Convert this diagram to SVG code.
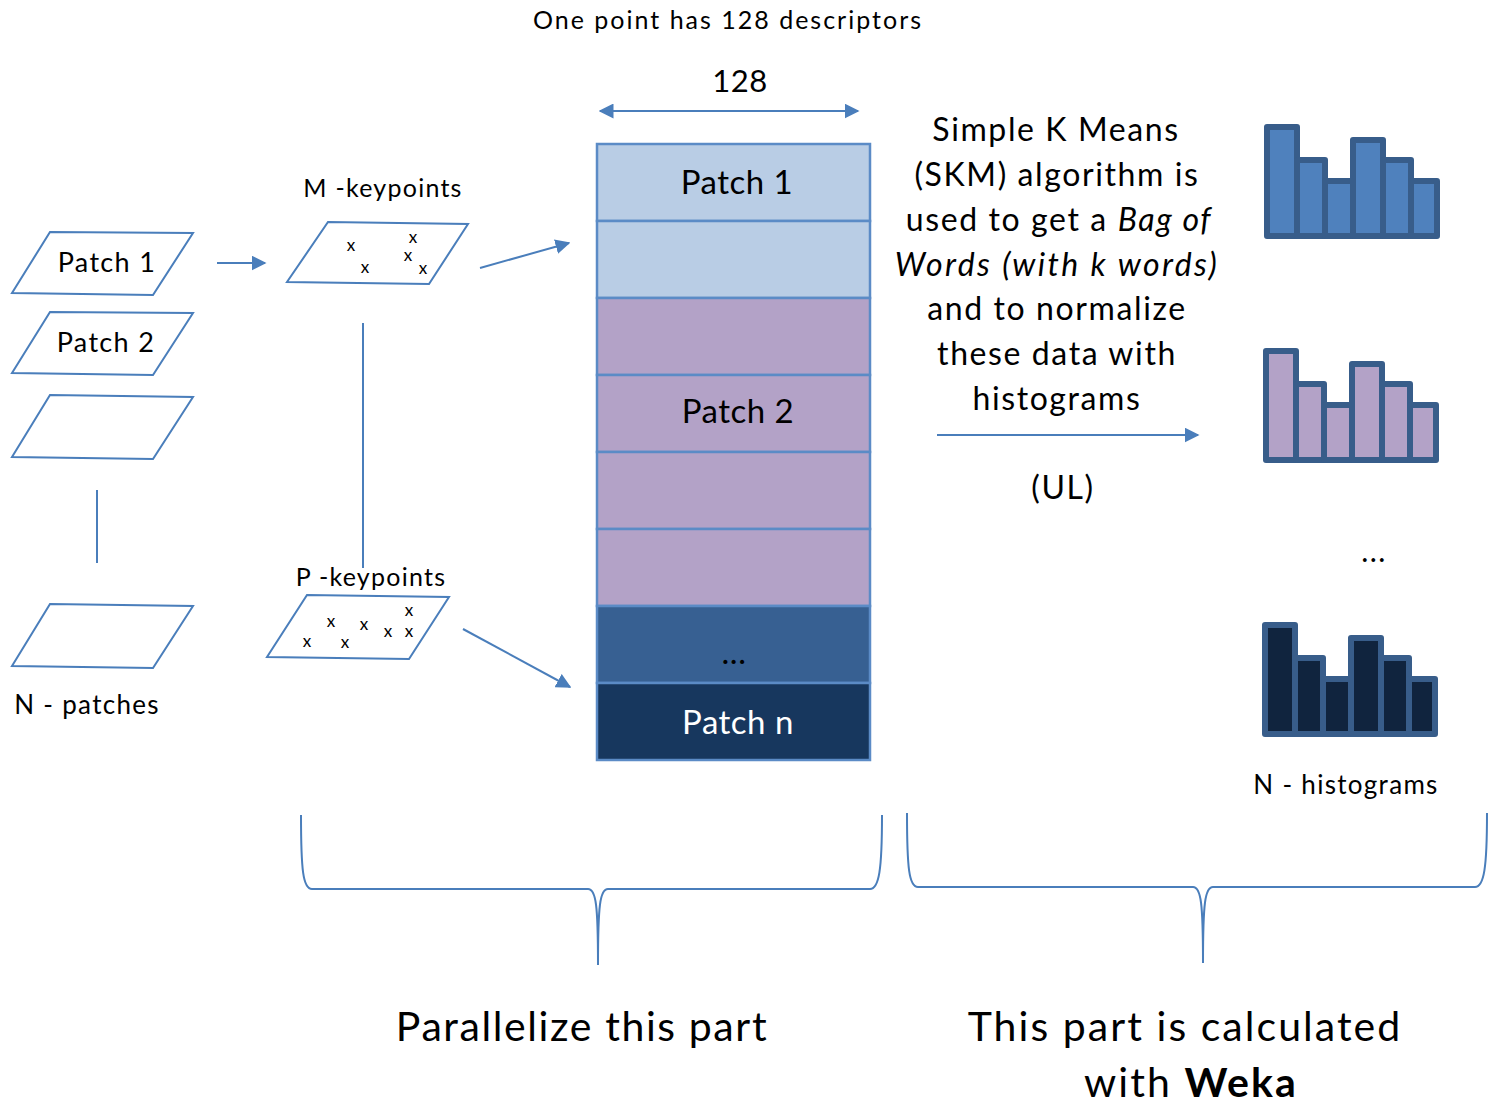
<svg xmlns="http://www.w3.org/2000/svg" width="1489" height="1104" viewBox="0 0 1489 1104">
<style>
text{font-family:Lato,"Open Sans","Liberation Sans",sans-serif;fill:#000;letter-spacing:0.05em}
.pg{fill:#fff;stroke:#4A7EBB;stroke-width:2}
.ln{fill:none;stroke:#4A7EBB;stroke-width:2}
.row{stroke:#5B8BC6;stroke-width:2.5}
.bar{stroke:#385D8A;stroke-width:6;stroke-linejoin:round}
.x{font-size:17px;text-anchor:middle;letter-spacing:0}
.c{text-anchor:middle}
.st{letter-spacing:0.5px}
</style>
<defs>
<marker id="ah" viewBox="0 0 10 10" refX="9" refY="5" markerWidth="7.5" markerHeight="7.5" orient="auto-start-reverse" markerUnits="strokeWidth"><path d="M0,0 L10,5 L0,10 Z" fill="#4A7EBB"/></marker>
</defs>
<rect width="1489" height="1104" fill="#fff"/>
<text x="728" y="29" class="c" font-size="25" style="letter-spacing:2px">One point has 128 descriptors</text>
<text x="740" y="92" class="c st" font-size="31">128</text>

<g id="patch1"><polygon class="pg" points="50,232 193,233 153,295 12,293"/><text x="107" y="272" class="c" font-size="27">Patch 1</text></g>
<g id="patch2"><polygon class="pg" points="50,312 193,313 153,375 12,373"/><text x="106" y="352" class="c" font-size="27">Patch 2</text></g>
<g id="patch3"><polygon class="pg" points="50,395 193,397 153,459 12,457"/></g>
<g id="patchN"><polygon class="pg" points="50,604 193,606 153,668 12,666"/></g>
<text x="87" y="714" class="c" font-size="26">N - patches</text>

<g id="mkeypoints">
<text x="383" y="197" class="c" font-size="25">M -keypoints</text>
<polygon class="pg" points="328,222 468,224 429,284 287,282"/>
<text x="351" y="251" class="x">x</text><text x="365" y="273" class="x">x</text><text x="413" y="243" class="x">x</text><text x="408" y="261" class="x">x</text><text x="423" y="274" class="x">x</text>
</g>
<g id="pkeypoints">
<text x="371" y="586" class="c" font-size="25">P -keypoints</text>
<polygon class="pg" points="307,595 449,597 409,659 267,657"/>
<text x="307" y="647" class="x">x</text><text x="331" y="627" class="x">x</text><text x="345" y="648" class="x">x</text><text x="364" y="630" class="x">x</text><text x="388" y="637" class="x">x</text><text x="409" y="616" class="x">x</text><text x="409" y="637" class="x">x</text>
</g>

<g id="stack">
<rect class="row" x="597" y="144" width="273" height="77" fill="#B9CDE5"/>
<rect class="row" x="597" y="221" width="273" height="77" fill="#B9CDE5"/>
<rect class="row" x="597" y="298" width="273" height="77" fill="#B3A2C7"/>
<rect class="row" x="597" y="375" width="273" height="77" fill="#B3A2C7"/>
<rect class="row" x="597" y="452" width="273" height="77" fill="#B3A2C7"/>
<rect class="row" x="597" y="529" width="273" height="77" fill="#B3A2C7"/>
<rect class="row" x="597" y="606" width="273" height="77" fill="#376092"/>
<rect class="row" x="597" y="683" width="273" height="77" fill="#17375E"/>
<text x="737" y="194" class="c st" font-size="33">Patch 1</text>
<text x="738" y="423" class="c st" font-size="33">Patch 2</text>
<text x="734" y="664" class="c st" font-size="33">...</text>
<text x="738" y="734" class="c st" font-size="33" style="fill:#fff">Patch n</text>
</g>

<g id="skm-text" font-size="32">
<text x="1056" y="141" class="c">Simple K Means</text>
<text x="1057" y="186" class="c">(SKM) algorithm is</text>
<text x="1059" y="231" class="c">used to get a <tspan font-style="italic">Bag of</tspan></text>
<text x="1057" y="276" class="c" font-style="italic" style="letter-spacing:2.4px">Words (with k words)</text>
<text x="1057" y="320" class="c">and to normalize</text>
<text x="1057" y="365" class="c">these data with</text>
<text x="1057" y="410" class="c">histograms</text>
<text x="1063" y="499" class="c">(UL)</text>
</g>

<g id="hist1">
<rect class="bar" x="1267" y="127" width="30" height="109" fill="#4F81BD"/>
<rect class="bar" x="1297" y="160" width="28" height="76" fill="#4F81BD"/>
<rect class="bar" x="1325" y="181" width="28" height="55" fill="#4F81BD"/>
<rect class="bar" x="1353" y="140" width="30" height="96" fill="#4F81BD"/>
<rect class="bar" x="1383" y="160" width="28" height="76" fill="#4F81BD"/>
<rect class="bar" x="1411" y="181" width="26" height="55" fill="#4F81BD"/>
</g>
<g id="hist2" transform="translate(-1,224)">
<rect class="bar" x="1267" y="127" width="30" height="109" fill="#B3A2C7"/>
<rect class="bar" x="1297" y="160" width="28" height="76" fill="#B3A2C7"/>
<rect class="bar" x="1325" y="181" width="28" height="55" fill="#B3A2C7"/>
<rect class="bar" x="1353" y="140" width="30" height="96" fill="#B3A2C7"/>
<rect class="bar" x="1383" y="160" width="28" height="76" fill="#B3A2C7"/>
<rect class="bar" x="1411" y="181" width="26" height="55" fill="#B3A2C7"/>
</g>
<g id="hist3" transform="translate(-2,498)">
<rect class="bar" x="1267" y="127" width="30" height="109" fill="#10243E"/>
<rect class="bar" x="1297" y="160" width="28" height="76" fill="#10243E"/>
<rect class="bar" x="1325" y="181" width="28" height="55" fill="#10243E"/>
<rect class="bar" x="1353" y="140" width="30" height="96" fill="#10243E"/>
<rect class="bar" x="1383" y="160" width="28" height="76" fill="#10243E"/>
<rect class="bar" x="1411" y="181" width="26" height="55" fill="#10243E"/>
</g>
<text x="1374" y="562" class="c" font-size="30">...</text>
<text x="1346" y="794" class="c" font-size="26">N - histograms</text>

<g id="connectors">
<line class="ln" x1="600" y1="111" x2="858" y2="111" marker-start="url(#ah)" marker-end="url(#ah)"/>
<line class="ln" x1="217" y1="263" x2="265" y2="263" marker-end="url(#ah)"/>
<line class="ln" x1="97" y1="490" x2="97" y2="563"/>
<line class="ln" x1="363" y1="323" x2="363" y2="568"/>
<line class="ln" x1="480" y1="268" x2="569" y2="243" marker-end="url(#ah)"/>
<line class="ln" x1="463" y1="629" x2="570" y2="687" marker-end="url(#ah)"/>
<line class="ln" x1="937" y1="435" x2="1198" y2="435" marker-end="url(#ah)"/>
</g>

<g id="brace-left"><path class="ln" d="M301,815 C301,870 303,889 312,889 L588,889 C596,889 598,905 598,965 C598,905 600,889 608,889 L870,889 C879,889 882,870 882,815"/></g>
<g id="brace-right"><path class="ln" d="M907,813 C907,868 909,887 918,887 L1193,887 C1201,887 1203,903 1203,963 C1203,903 1205,887 1213,887 L1475,887 C1484,887 1487,868 1487,813"/></g>

<text x="582" y="1041" class="c" font-size="41" style="letter-spacing:1.6px">Parallelize this part</text>
<text x="1185" y="1041" class="c" font-size="41">This part is calculated</text>
<text x="1191" y="1097" class="c" font-size="41">with <tspan font-weight="bold">Weka</tspan></text>
</svg>
